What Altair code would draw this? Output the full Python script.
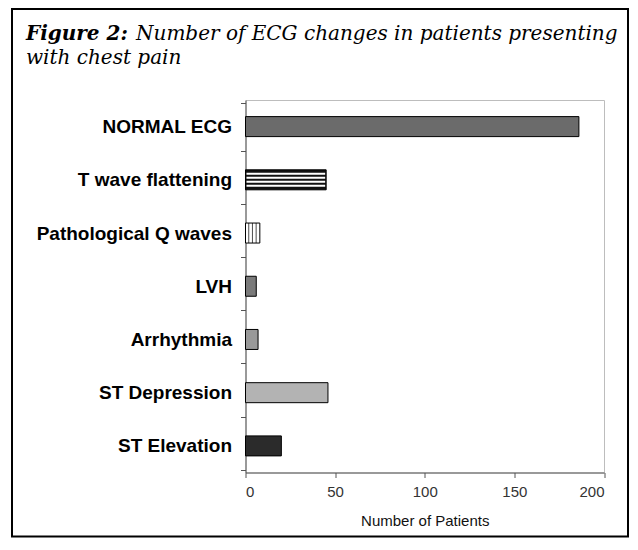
import altair as alt
import pandas as pd

categories = ["NORMAL ECG", "T wave flattening", "Pathological Q waves", "LVH",
              "Arrhythmia", "ST Depression", "ST Elevation"]
patients = [186, 45, 8, 6, 7, 46, 20]
fills = ["#6b6b6b", "#111111", "#ffffff", "#7a7a7a", "#999999", "#b3b3b3", "#2b2b2b"]
x_ticks = [0, 50, 100, 150, 200]
title_bold = "Figure 2:"
title_line1 = "Number of ECG changes in patients presenting"
title_line2 = "with chest pain"
x_title = "Number of Patients"

df = pd.DataFrame({"cat": categories, "value": patients, "fill": fills, "zero": 0})

y_enc = alt.Y("cat:N", sort=categories, title=None,
              axis=alt.Axis(labelFont="Arial", labelFontWeight="bold", labelFontSize=19,
                            labelColor="black", tickSize=5, labelPadding=9,
                            tickBand="extent", domainColor="#555555", tickColor="#555555",
                            labelLimit=300))
x_enc = alt.X("value:Q", scale=alt.Scale(domain=[0, 200], nice=False),
              axis=alt.Axis(values=x_ticks, grid=False, title=x_title,
                            labelFont="Arial", labelFontSize=15, labelColor="#333333",
                            tickSize=5, labelPadding=7, domainColor="#555555",
                            tickColor="#555555", titleFont="Arial", titleFontSize=15,
                            titleFontWeight="normal", titleColor="#111111", titlePadding=14))

bars = alt.Chart(df).mark_bar(size=20, stroke="black", strokeWidth=1).encode(
    y=y_enc, x=x_enc, fill=alt.Fill("fill:N", scale=None))

# horizontal white stripes inside the T wave bar
twave = df[df["cat"] == "T wave flattening"]
stripes = [
    alt.Chart(twave).mark_rule(color="white", strokeWidth=2, yOffset=off,
                               xOffset=1, x2Offset=-1).encode(
        y=alt.Y("cat:N", sort=categories), x="zero:Q", x2="value:Q")
    for off in (-6, -2, 2, 6)
]

# vertical stripes inside the Pathological Q waves bar
qwave = df[df["cat"] == "Pathological Q waves"]
vlines = [
    alt.Chart(qwave).mark_tick(color="black", thickness=1, size=20, xOffset=off).encode(
        y=alt.Y("cat:N", sort=categories), x="value:Q")
    for off in (-3.7, -7.4, -11.1)
]

one = pd.DataFrame({"t": [title_bold]})
t_bold = alt.Chart(one).mark_text(font="DejaVu Serif", fontStyle="italic", fontWeight="bold",
                                  fontSize=20, align="left", baseline="alphabetic",
                                  color="black").encode(
    text="t:N", x=alt.value(-219.5), y=alt.value(-60))
t_l1 = alt.Chart(pd.DataFrame({"t": [title_line1]})).mark_text(
    font="DejaVu Serif", fontStyle="italic", fontSize=20, align="left",
    baseline="alphabetic", color="black").encode(
    text="t:N", x=alt.value(-109.5), y=alt.value(-60))
t_l2 = alt.Chart(pd.DataFrame({"t": [title_line2]})).mark_text(
    font="DejaVu Serif", fontStyle="italic", fontSize=20, align="left",
    baseline="alphabetic", color="black").encode(
    text="t:N", x=alt.value(-219.5), y=alt.value(-36))

frame = alt.Chart(one).mark_rect(filled=False, stroke="black", strokeWidth=2).encode(
    x=alt.value(-233.5), x2=alt.value(382.5), y=alt.value(-91), y2=alt.value(436.5))

chart = alt.layer(bars, *stripes, *vlines, t_bold, t_l1, t_l2, frame).properties(
    width=358.5, height=372.5,
    autosize=alt.AutoSizeParams(type="none"),
    padding={"left": 237.5, "top": 92, "right": 26, "bottom": 65},
    background="white",
).configure_view(stroke="#bdbdbd")

chart.save("out.html", embed_options={"renderer": "svg", "actions": False})
